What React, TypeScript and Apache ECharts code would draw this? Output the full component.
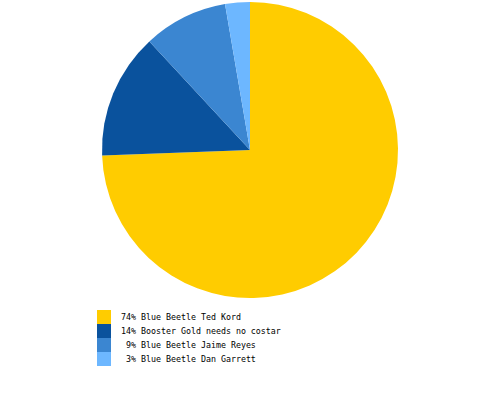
import { useEffect, useRef } from "react";
import * as echarts from "echarts";

const names = [
  "Blue Beetle Ted Kord",
  "Booster Gold needs no costar",
  "Blue Beetle Jaime Reyes",
  "Blue Beetle Dan Garrett",
];
// shares; the legend shows them rounded
const values = [74.4, 13.7, 9.2, 2.7];
const colors = ["#ffcc00", "#0a529d", "#3b86d1", "#6db7ff"];

export default function App() {
  const ref = useRef<HTMLDivElement | null>(null);

  useEffect(() => {
    if (!ref.current) return;
    const chart = echarts.init(ref.current, null, { renderer: "svg" });
    const pctByName: Record<string, number> = {};
    names.forEach((n, i) => (pctByName[n] = Math.round(values[i])));

    chart.setOption({
      animation: false,
      color: colors,
      legend: {
        orient: "vertical",
        left: 97,
        top: 310,
        itemWidth: 14,
        itemHeight: 14,
        itemGap: 0,
        icon: "rect",
        padding: 0,
        selectedMode: false,
        textStyle: {
          fontFamily: "DejaVu Sans Mono",
          fontSize: 8.3,
          color: "#000",
          padding: [0, 0, 0, 5],
        },
        formatter: (name: string) =>
          (pctByName[name] + "%").padStart(3, "\u00a0") + " " + name,
        data: names,
      },
      series: [
        {
          type: "pie",
          center: [250, 150],
          radius: 148,
          startAngle: 90,
          clockwise: true,
          label: { show: false },
          labelLine: { show: false },
          emphasis: { disabled: true },
          itemStyle: { borderWidth: 0 },
          data: names.map((n, i) => ({ name: n, value: values[i] })),
        },
      ],
    });
    return () => chart.dispose();
  }, []);

  return (
    <div
      ref={ref}
      style={{ width: 500, height: 400, position: "absolute", left: 0, top: 0 }}
    />
  );
}
